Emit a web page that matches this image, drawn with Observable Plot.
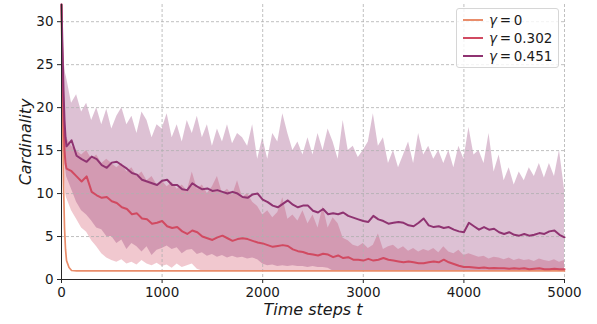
<!DOCTYPE html>
<html><head><meta charset="utf-8">
<script src="https://cdn.jsdelivr.net/npm/d3@7"></script>
<script src="https://cdn.jsdelivr.net/npm/@observablehq/plot@0.6"></script>
<style>
body{margin:0;background:#fff;}
#wrap{position:relative;width:597px;height:324px;font-family:"DejaVu Sans",sans-serif;}
#legend{position:absolute;left:456px;top:8px;width:103px;height:60px;border:1px solid #d6d6d6;border-radius:3px;background:rgba(255,255,255,0.8);box-sizing:border-box;}
.row{position:absolute;left:0;height:18px;display:flex;align-items:center;font-size:13.5px;color:#1a1a1a;white-space:nowrap;}
.sw{width:20px;height:0;border-top:2px solid;margin-left:6px;margin-right:6px;}
.g{font-style:italic;}
</style></head>
<body>
<div id="wrap"></div>
<script>
// ---- data ----
const labels = ["γ = 0", "γ = 0.302", "γ = 0.451"];
const colors = ["#e98d6b", "#d14a61", "#8f3371"];
const xTicks = [0, 1000, 2000, 3000, 4000, 5000];
const yTicks = [0, 5, 10, 15, 20, 25, 30];

// gamma = 0 (own time grid)
const t0 = [0, 10, 20, 30, 40, 50, 75, 100, 150, 5000];
const mean0 = [32, 20, 11, 6, 3.5, 2.2, 1.4, 1.05, 1.0, 1.0];

// common time grid for gamma = 0.302 and 0.451
const steps = [0, 10, 20, 30, 40].concat(d3.range(50, 5001, 50));

const mean302 = [32, 24, 18.5, 15, 13.5,
  12.9, 12.6, 12.0, 11.4, 12.0, 10.2, 9.8, 9.5, 9.6, 9.1,
  8.9, 8.4, 8.2, 7.6, 7.7, 7.1, 7.0, 6.5, 6.6, 6.8,
  6.2, 6.0, 6.1, 5.6, 5.3, 5.7, 5.5, 5.0, 4.8, 4.6,
  4.9, 5.1, 4.8, 4.5, 4.7, 4.8, 4.7, 4.5, 4.3, 4.2,
  4.0, 3.8, 3.9, 4.0, 3.9, 3.5, 3.3, 3.2, 3.0, 2.9,
  2.8, 3.0, 2.9, 2.6, 2.8, 2.5, 2.6, 2.3, 2.3, 2.2,
  2.4, 2.2, 2.3, 2.5, 2.3, 2.2, 2.1, 2.0, 2.1, 2.0,
  1.9, 1.9, 2.0, 2.1, 2.0, 2.3, 2.0, 1.8, 1.6, 1.45,
  1.45, 1.4, 1.35, 1.4, 1.3, 1.35, 1.3, 1.3, 1.25, 1.3,
  1.25, 1.3, 1.2, 1.25, 1.3, 1.2, 1.2, 1.25, 1.2, 1.2];
const upper302 = [32, 27, 22, 19, 17.5,
  16.5, 15.5, 15.0, 14.5, 15.0, 14.0, 14.5, 13.5, 14.0, 13.5,
  13.0, 13.5, 12.5, 13.0, 12.0, 12.5, 11.5, 12.0, 11.0, 11.5,
  10.8, 11.3, 10.5, 11.0, 10.3, 12.5, 10.5, 11.0, 10.0, 10.8,
  12.0, 10.0, 10.5, 9.8, 11.5, 9.5, 10.0, 9.0, 8.5, 7.5,
  8.0, 7.2, 7.8, 9.5, 7.0, 7.5, 6.8, 8.0, 6.5, 7.5,
  6.0, 8.5, 6.0, 7.2, 6.5, 4.8, 4.5, 4.0, 3.8, 4.2,
  3.6, 4.0, 5.3, 3.5, 3.8, 4.0, 3.5, 3.8, 3.3, 3.6,
  3.2, 3.5, 3.3, 3.6, 3.1, 3.8, 3.2, 3.0, 3.4, 2.8,
  3.0, 2.8, 2.6, 2.7, 2.4, 2.6, 2.5, 2.3, 2.5, 2.2,
  2.4, 2.2, 2.3, 2.1, 2.4, 2.2, 2.1, 2.3, 2.0, 2.2];
const lower302 = [32, 20, 14, 11.5, 10,
  9.5, 8.0, 7.0, 6.0, 5.5, 4.5, 3.8, 3.0, 2.5, 2.2,
  2.0, 2.3, 1.8, 2.0, 1.7, 2.2, 1.8, 1.6, 1.9, 1.5,
  1.7, 1.3, 1.8, 1.4, 1.6, 1.8, 1.2, 1.0, 1.0, 1.0,
  1.0, 1.0, 1.0, 1.0, 1.0, 1.0, 1.0, 1.0, 1.0, 1.0,
  1.0, 1.0, 1.0, 1.0, 1.0, 1.0, 1.0, 1.0, 1.0, 1.0,
  1.0, 1.0, 1.0, 1.0, 1.0, 1.0, 1.0, 1.0, 1.0, 1.0,
  1.0, 1.0, 1.0, 1.0, 1.0, 1.0, 1.0, 1.0, 1.0, 1.0,
  1.0, 1.0, 1.0, 1.0, 1.0, 1.0, 1.0, 1.0, 1.0, 1.0,
  1.0, 1.0, 1.0, 1.0, 1.0, 1.0, 1.0, 1.0, 1.0, 1.0,
  1.0, 1.0, 1.0, 1.0, 1.0, 1.0, 1.0, 1.0, 1.0, 1.0];

const mean451 = [32, 27, 22, 18.5, 16.5,
  15.5, 16.2, 14.4, 14.0, 13.7, 14.3, 14.0, 13.3, 13.0, 13.6,
  13.7, 13.3, 12.9, 12.4, 12.2, 11.6, 11.4, 11.2, 11.0, 11.5,
  11.6, 11.0, 11.0, 10.5, 10.4, 11.2, 10.8, 10.5, 10.6, 10.3,
  10.4, 10.2, 10.0, 10.2, 10.0, 9.6, 9.5, 9.9, 10.0, 9.3,
  9.0, 8.6, 8.4, 8.8, 9.2, 8.7, 8.4, 8.6, 8.6, 8.0,
  7.8, 8.2, 7.6, 7.7, 7.6, 7.8, 7.4, 7.2, 7.0, 6.8,
  6.7, 7.4, 7.0, 6.8, 6.5, 6.6, 6.7, 6.6, 6.3, 6.2,
  6.6, 7.1, 6.3, 6.1, 6.2, 6.0, 6.1, 5.8, 5.6, 5.5,
  6.6, 6.2, 5.8, 6.1, 5.8, 5.9, 5.5, 5.3, 5.5, 5.2,
  5.1, 5.3, 5.1, 5.2, 5.4, 5.3, 5.6, 5.7, 5.2, 4.9];
const upper451 = [32, 30, 27, 25, 24,
  23.5, 20.5, 21.5, 19.5, 20.5, 18.5, 20.0, 18.0, 19.8, 17.5,
  19.0, 20.0, 18.0, 19.0, 17.0, 19.5, 18.5, 16.5, 18.0, 17.5,
  19.3, 16.5, 18.0, 16.0, 18.5, 17.0, 19.0, 16.5, 18.0, 15.5,
  17.5, 16.0, 18.0, 15.8, 17.0, 16.5, 15.5, 18.0, 14.0, 16.5,
  14.0, 17.0, 16.0, 19.3, 17.0, 15.0, 16.0, 14.5, 16.5, 14.5,
  17.0, 15.0, 17.5, 16.0, 14.0, 18.5, 15.0, 15.5, 14.2, 15.0,
  16.0, 19.3, 15.5, 16.5, 13.5, 15.0, 13.0, 14.5, 16.0, 13.5,
  17.0, 14.5, 15.5, 14.0, 15.0, 13.5, 15.0, 13.0, 15.5, 14.0,
  17.7, 14.5, 15.0, 13.5, 17.0, 12.5, 14.5, 11.5, 13.0, 11.0,
  12.5, 11.5, 13.0, 12.0, 13.5, 11.8, 13.5, 12.0, 15.0, 10.5];
const lower451 = [32, 24, 18, 15, 13,
  12.0, 10.5, 9.0, 8.0, 7.5, 6.8, 6.0, 5.8, 5.0, 5.0,
  4.2, 4.6, 3.5, 4.2, 3.8, 3.2, 3.8, 2.8, 3.4, 3.6,
  3.9, 3.5, 3.7, 3.0, 3.4, 3.5, 2.9, 3.1, 2.7, 2.9,
  2.6, 2.8, 2.5, 2.7, 2.5, 2.6, 2.4, 2.5, 2.3, 1.8,
  1.6, 1.7, 1.5, 1.6, 1.5, 1.6, 1.5, 1.5, 1.4, 1.5,
  1.4, 1.4, 1.3, 1.0, 1.0, 1.0, 1.0, 1.0, 1.0, 1.0,
  1.0, 1.0, 1.0, 1.0, 1.0, 1.0, 1.0, 1.0, 1.0, 1.0,
  1.0, 1.0, 1.0, 1.0, 1.0, 1.0, 1.0, 1.0, 1.0, 1.0,
  1.0, 1.0, 1.0, 1.0, 1.0, 1.0, 1.0, 1.0, 1.0, 1.0,
  1.0, 1.0, 1.0, 1.0, 1.0, 1.0, 1.0, 1.0, 1.0, 1.0];

// ---- tables built from the arrays ----
const d0 = t0.map((t, i) => ({t, v: mean0[i]}));
const d302 = steps.map((t, i) => ({t, v: mean302[i], lo: lower302[i], hi: upper302[i]}));
const d451 = steps.map((t, i) => ({t, v: mean451[i], lo: lower451[i], hi: upper451[i]}));

const grid = {stroke: "#b0b0b0", strokeOpacity: 1, strokeWidth: 0.8, strokeDasharray: "3,2"};

const chart = Plot.plot({
  width: 597, height: 324,
  marginLeft: 61, marginRight: 33, marginTop: 4, marginBottom: 45,
  style: {fontFamily: "'DejaVu Sans', sans-serif", fontSize: "13.5px", color: "#1a1a1a", background: "white"},
  x: {domain: [0, 5000]},
  y: {domain: [0, 32]},
  marks: [
    Plot.areaY(d302, {x: "t", y1: "lo", y2: "hi", fill: colors[1], fillOpacity: 0.3}),
    Plot.areaY(d451, {x: "t", y1: "lo", y2: "hi", fill: colors[2], fillOpacity: 0.3}),
    Plot.gridX(xTicks, grid),
    Plot.gridY(yTicks, grid),
    Plot.lineY(d0, {x: "t", y: "v", stroke: colors[0], strokeWidth: 1.7}),
    Plot.lineY(d302, {x: "t", y: "v", stroke: colors[1], strokeWidth: 2}),
    Plot.lineY(d451, {x: "t", y: "v", stroke: colors[2], strokeWidth: 2}),
    Plot.ruleX([0], {stroke: "#262626", strokeWidth: 1}),
    Plot.ruleY([0], {stroke: "#262626", strokeWidth: 1}),
    Plot.axisX(xTicks, {tickSize: 4, tickPadding: 4, label: null, fontSize: 13.5, stroke: "#262626", tickFormat: d => String(d)}),
    Plot.axisY(yTicks, {tickSize: 4, tickPadding: 4, label: null, fontSize: 13.5, stroke: "#262626", tickFormat: d => String(d)}),
    Plot.text(["Time steps t"], {frameAnchor: "bottom", lineAnchor: "middle", textAnchor: "middle", dy: 30, fontStyle: "italic", fontSize: 16, fill: "#1a1a1a"}),
    Plot.text(["Cardinality"], {frameAnchor: "left", lineAnchor: "middle", textAnchor: "middle", dx: -36, rotate: -90, fontStyle: "italic", fontSize: 16, fill: "#1a1a1a"})
  ]
});

const wrap = document.getElementById("wrap");
wrap.appendChild(chart);

// legend (HTML overlay, upper right)
const legend = document.createElement("div");
legend.id = "legend";
labels.forEach((lab, i) => {
  const row = document.createElement("div");
  row.className = "row";
  row.style.top = (2 + i * 18) + "px";
  const sw = document.createElement("span");
  sw.className = "sw";
  sw.style.borderTopColor = colors[i];
  const txt = document.createElement("span");
  const parts = lab.split(" ");
  txt.innerHTML = '<span class="g">' + parts[0] + '</span>&#8239;' + parts.slice(1).join("&#8239;");
  row.appendChild(sw);
  row.appendChild(txt);
  legend.appendChild(row);
});
wrap.appendChild(legend);
</script>
</body></html>
